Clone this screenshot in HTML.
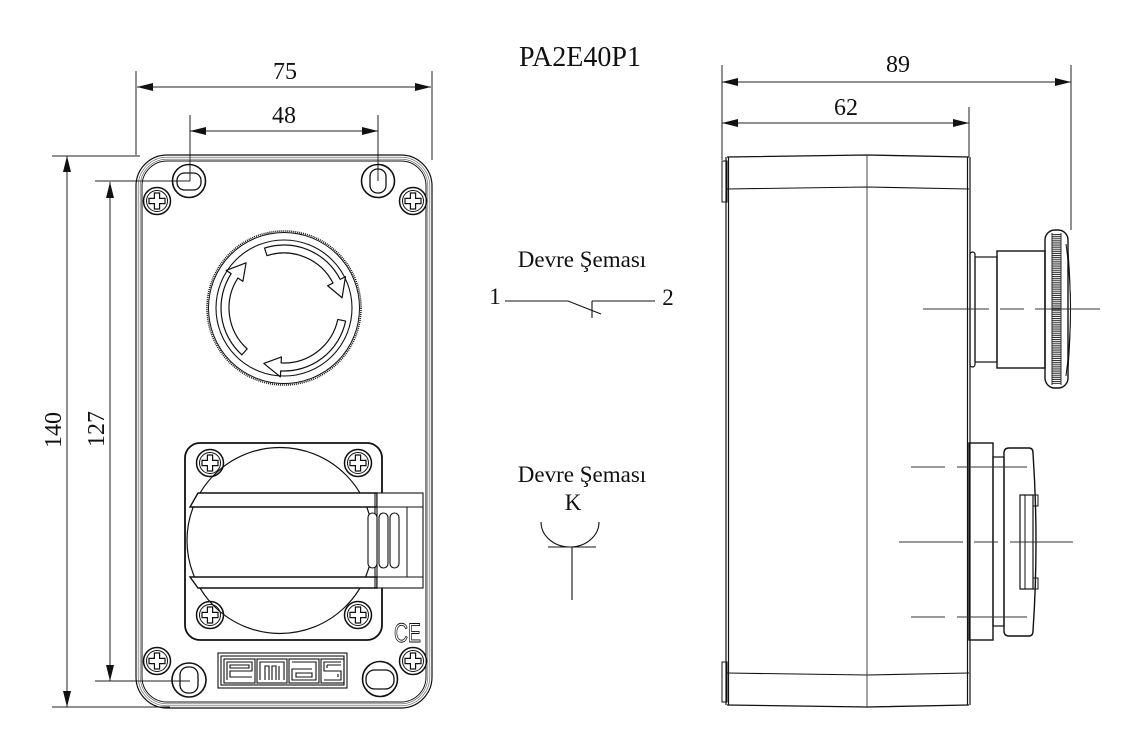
<!DOCTYPE html>
<html><head><meta charset="utf-8"><style>
html,body{margin:0;padding:0;background:#fff;}
svg{display:block;}
text{font-family:"Liberation Serif",serif;fill:#111;}
</style></head><body>
<svg width="1145" height="753" viewBox="0 0 1145 753" xmlns="http://www.w3.org/2000/svg">
<rect width="1145" height="753" fill="#fff"/>

<!-- ===== Titles / labels ===== -->
<text x="580" y="66" font-size="28" text-anchor="middle">PA2E40P1</text>
<text x="582" y="267" font-size="23" text-anchor="middle">Devre Şeması</text>
<text x="582" y="482" font-size="23" text-anchor="middle">Devre Şeması</text>
<text x="573" y="510" font-size="23" text-anchor="middle">K</text>
<text x="495" y="304" font-size="23" text-anchor="middle">1</text>
<text x="668" y="305" font-size="23" text-anchor="middle">2</text>

<!-- circuit symbols -->
<g fill="none" stroke="#111" stroke-width="1.1">
  <path d="M505 301 H568 L601 314 M592 301 V318 M592 301 H655"/>
  <path d="M541 522 A29 25 0 0 0 599 522"/>
  <path d="M548 547 H596 M572 547 V600"/>
</g>

<!-- ===== Dimensions ===== -->
<g fill="none" stroke="#222" stroke-width="1">
  <path d="M137 87 H431 M136 71 V155 M432 71 V160"/>
  <path d="M190 131 H378 M190 115 V181 M378 115 V181"/>
  <path d="M67 156 V707 M52 156 H140 M52 707 H170"/>
  <path d="M110 182 V681 M95 181 H190 M95 681 H190"/>
  <path d="M722 82 H1071 M722 65 V160 M1071 65 V230"/>
  <path d="M722 123 H969 M969 107 V157"/>
</g>
<g fill="#111">
  <polygon points="137,87 153,83 153,91"/><polygon points="431,87 415,83 415,91"/>
  <polygon points="190,131 206,127 206,135"/><polygon points="378,131 362,127 362,135"/>
  <polygon points="67,156 63,172 71,172"/><polygon points="67,707 63,691 71,691"/>
  <polygon points="110,182 106,198 114,198"/><polygon points="110,681 106,665 114,665"/>
  <polygon points="722,82 738,78 738,86"/><polygon points="1071,82 1055,78 1055,86"/>
  <polygon points="722,123 738,119 738,127"/><polygon points="969,123 953,119 953,127"/>
</g>
<text x="285" y="79" font-size="24" text-anchor="middle">75</text>
<text x="284" y="123" font-size="24" text-anchor="middle">48</text>
<text x="898" y="72" font-size="24" text-anchor="middle">89</text>
<text x="846" y="115" font-size="24" text-anchor="middle">62</text>
<text transform="translate(61,430) rotate(-90)" font-size="24" text-anchor="middle">140</text>
<text transform="translate(104,429) rotate(-90)" font-size="24" text-anchor="middle">127</text>

<!-- ===== Front view ===== -->
<g fill="none" stroke="#111">
  <rect x="136" y="155" width="296" height="553" rx="31" stroke-width="1.2"/>
  <rect x="138.2" y="157.2" width="291.6" height="548.6" rx="29" stroke-width="0.6" stroke="#555"/>
  <rect x="140.2" y="159.2" width="287.6" height="544.6" rx="27" stroke-width="0.6" stroke="#555"/>
  <rect x="142" y="161" width="284" height="541" rx="25" stroke-width="1"/>

  <!-- mounting holes -->
  <circle cx="189" cy="181" r="16.5" stroke-width="1.6"/>
  <rect x="177" y="173" width="24" height="17" rx="7.5" stroke-width="1.3"/>
  <circle cx="378" cy="181" r="16.5" stroke-width="1.6"/>
  <rect x="370" y="169" width="16" height="24" rx="7.5" stroke-width="1.3"/>
  <circle cx="189" cy="680" r="17" stroke-width="1.6"/>
  <rect x="180" y="667" width="18" height="26" rx="8" stroke-width="1.3"/>
  <circle cx="380" cy="679" r="17.5" stroke-width="1.6"/>
  <rect x="366" y="670" width="28" height="19" rx="8.5" stroke-width="1.3"/>
</g>

<!-- screws -->
<defs>
  <g id="scr" fill="none" stroke="#111">
    <circle r="13.5" stroke-width="1.5"/>
    <circle r="10.5" stroke-width="1"/>
    <path d="M-2.6 -8 h5.2 v5.4 h5.4 v5.2 h-5.4 v5.4 h-5.2 v-5.4 h-5.4 v-5.2 h5.4 z" stroke-width="1.2"/>
  </g>
</defs>
<use href="#scr" x="157" y="201"/>
<use href="#scr" x="413" y="201"/>
<use href="#scr" x="157" y="661"/>
<use href="#scr" x="413" y="661"/>

<!-- emergency stop button -->
<g fill="none" stroke="#111">
  <circle cx="284" cy="308" r="77" stroke-width="1.6" stroke-dasharray="1 1"/>
  <circle cx="284" cy="308" r="75.5" stroke-width="1"/>
  <circle cx="284" cy="308" r="68" stroke-width="1.1"/>
  <g stroke-width="1.2" stroke-linejoin="round">
    <path id="arw" d="M345.62 321.10 A63 63 0 0 1 280.70 370.91 L280.39 376.90 L263.82 363.44 L281.44 356.93 L281.12 362.92 A55 55 0 0 0 337.80 319.43 Z"/>
    <use href="#arw" transform="rotate(120 284 308)"/>
    <use href="#arw" transform="rotate(240 284 308)"/>
  </g>
</g>

<!-- selector switch -->
<g fill="none" stroke="#111">
  <rect x="185" y="443" width="197" height="197" rx="15" stroke-width="1.8"/>
  <circle cx="280" cy="540.5" r="93" stroke-width="1.2"/>
</g>
<use href="#scr" x="210" y="463"/>
<use href="#scr" x="358" y="463"/>
<use href="#scr" x="210" y="615"/>
<use href="#scr" x="358" y="615"/>
<g stroke="#111" stroke-width="1.4">
  <path d="M198 493 H377 V507 H190 Z" fill="#fff"/>
  <path d="M190 577 H377 V588 H198 Z" fill="#fff"/>
  <rect x="377" y="493" width="46" height="95" fill="#fff" stroke-width="1.1"/>
  <path d="M375 493 V588" fill="none" stroke-width="1.1"/>
  <path d="M377 507 H423 M377 577 H423 M407 507 V577" fill="none" stroke-width="1"/>
  <rect x="368" y="513" width="9" height="55" rx="4.5" fill="#fff" stroke-width="1.1"/>
  <rect x="379" y="513" width="9" height="55" rx="4.5" fill="#fff" stroke-width="1.1"/>
  <rect x="390" y="513" width="9" height="55" rx="4.5" fill="#fff" stroke-width="1.1"/>
</g>

<!-- CE mark -->
<text x="394" y="642" font-size="27" transform="translate(394 0) scale(0.72 1) translate(-394 0)" style="font-family:'Liberation Sans',sans-serif;fill:none;stroke:#111;stroke-width:0.9">CE</text>

<!-- emas logo -->
<g fill="none" stroke="#111" stroke-width="1.1">
  <title>emas</title>
  <rect x="218" y="653" width="129" height="35"/>
  <rect x="221" y="656" width="123" height="29"/>
  <rect x="224" y="659" width="31" height="24"/>
  <rect x="257" y="659" width="30" height="24"/>
  <rect x="289" y="659" width="30" height="24"/>
  <rect x="321" y="659" width="23" height="24"/>
  <path d="M227 680 V662 H252 V671 H230 V677 H252 M230 668 V665 H249 V668 Z"/>
  <path d="M260 680 V662 H284 V680 M265 680 V666 H269 V680 M272 680 V666 H276 V680 M279 680 V666"/>
  <path d="M292 662 H316 V680 H292 V669 H312 M296 673 V677 H312 V673 Z"/>
  <path d="M341 662 H324 V671 H341 V680 H324 M327 665 H341 M327 668 V665 M338 674 V677"/>
</g>

<!-- ===== Side view ===== -->
<g fill="none" stroke="#111">
  <path d="M727 157 L867 155 L969 157" stroke-width="1.3"/>
  <path d="M727 189 L867 187 L969 189" stroke-width="1.1"/>
  <path d="M727 673 L867 675 L969 673" stroke-width="1.1"/>
  <path d="M727 705 L867 707 L969 705" stroke-width="1.3"/>
  <path d="M726 157 V705 M728.5 157 V705" stroke-width="1.2"/>
  <path d="M967.5 157 V705 M970 157 V705" stroke-width="1.2"/>
  <path d="M867 155 V707" stroke="#444" stroke-width="1"/>
  <rect x="722" y="161" width="5" height="41" stroke-width="1"/>
  <rect x="722" y="662" width="5" height="40" stroke-width="1"/>

  <!-- e-stop side -->
  <rect x="970" y="252" width="5" height="115" rx="2.5" stroke-width="1.2"/>
  <rect x="975" y="257" width="22" height="105" stroke-width="1.2"/>
  <rect x="997" y="251" width="48" height="117" stroke-width="1.4"/>
  <rect x="1045" y="230" width="23" height="158" rx="10" stroke-width="1.4"/>
  <path d="M1052 233 V385 M1061 233 V385" stroke-width="0.9"/>
  <path d="M1056.5 234 V384" stroke="#333" stroke-width="8" stroke-dasharray="1.1 1"/>
  <path d="M1066 244 Q1075 309 1066 376" stroke-width="1"/>
  <path d="M1068 250 Q1073 309 1068 370" stroke-width="0.8"/>

  <!-- selector side -->
  <rect x="969" y="443" width="24" height="197" stroke-width="1.4"/>
  <rect x="993" y="457" width="11" height="169" stroke-width="1.2"/>
  <path d="M1004 453 Q1004 448 1009 448 L1029 448 Q1033 448 1033 453 Q1039 542 1033 631 Q1033 636 1029 636 L1009 636 Q1004 636 1004 631 Z" stroke-width="1.4"/>
  <rect x="1020" y="495" width="13" height="94" stroke-width="1.2"/>
  <path d="M1025 495 V589" stroke-width="1"/>
  <rect x="1033" y="495" width="5" height="11" stroke-width="1"/>
  <rect x="1033" y="578" width="5" height="11" stroke-width="1"/>
</g>

<!-- centerlines -->
<g fill="none" stroke="#333" stroke-width="0.9">
  <path d="M923 309 H989 M1000 309 H1024 M1035 309 H1100"/>
  <path d="M911 467 H945 M957 467 H1027"/>
  <path d="M899 542 H963 M974 542 H998 M1010 542 H1073"/>
  <path d="M911 617 H945 M957 617 H1027"/>
</g>
</svg>
</body></html>
